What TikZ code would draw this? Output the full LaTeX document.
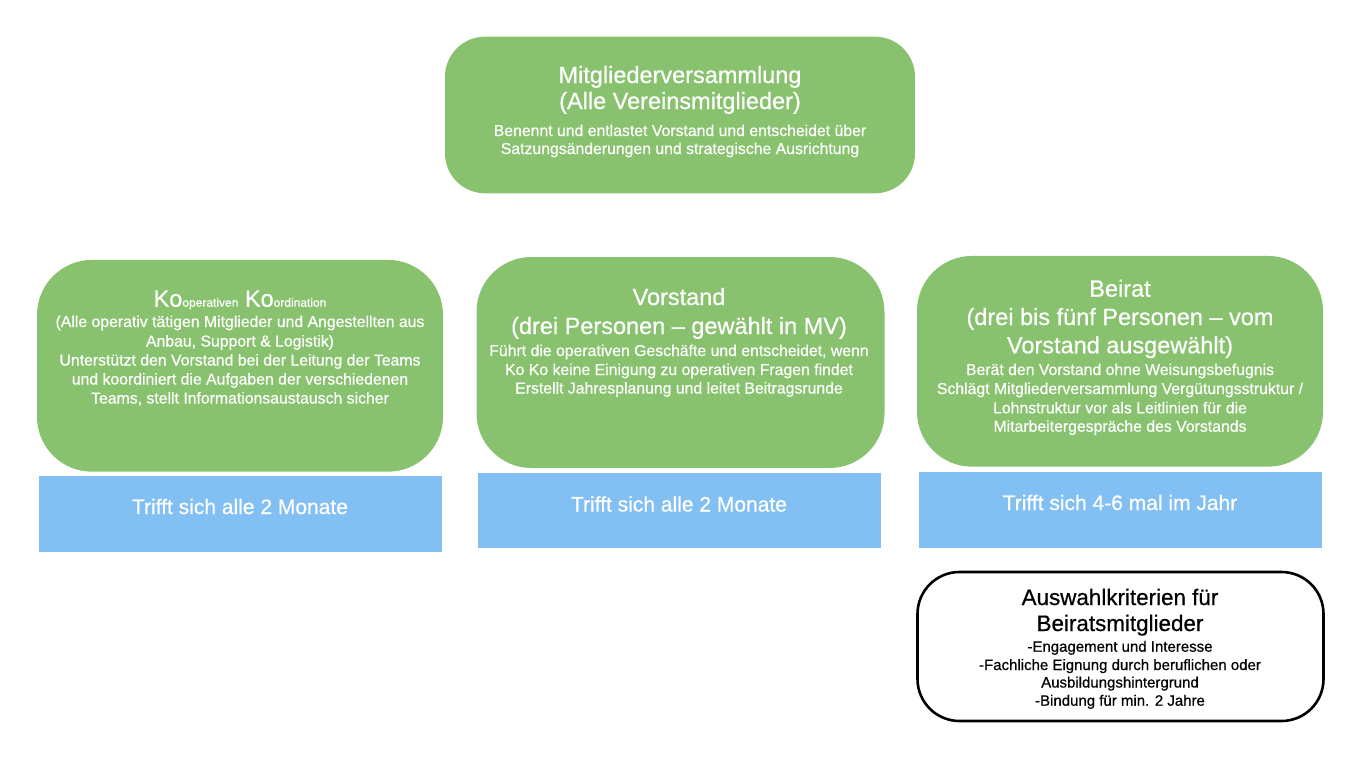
\documentclass[tikz,border=0pt]{standalone}
\usepackage{fontspec}
\setmainfont[FakeBold=0.6]{Liberation Sans}
\definecolor{grn}{RGB}{136,194,110}
\definecolor{blu}{RGB}{130,192,243}
\begin{document}
\begin{tikzpicture}[x=1pt,y=-1pt,
  gbox/.style={fill=grn, draw=none, rounded corners=#1, inner sep=0pt, outer sep=0pt},
  bbox/.style={fill=blu, draw=none, inner sep=0pt, outer sep=0pt},
  wbox/.style={fill=white, draw=black, line width=2.6pt, rounded corners=#1, inner sep=0pt, outer sep=0pt},
  big/.style={font=\fontsize{23.5}{28}\selectfont, text=white, inner sep=0pt, anchor=base},
  sml/.style={font=\fontsize{15.8}{19}\selectfont, text=white, inner sep=0pt, anchor=base},
  blt/.style={font=\fontsize{21}{25}\selectfont, text=white, inner sep=0pt, anchor=base},
  wbig/.style={font=\fontsize{22.4}{27}\selectfont, text=black, inner sep=0pt, anchor=base},
  wsml/.style={font=\fontsize{15}{18}\selectfont, text=black, inner sep=0pt, anchor=base}]
\useasboundingbox[fill=white] (0,0) rectangle (1362,760);

% boxes
\node[gbox=40pt, minimum width=470pt, minimum height=156.6pt] (mv) at (680,115) {};
\node[gbox=55pt, minimum width=406pt, minimum height=211.7pt] (ko) at (240,365.8) {};
\node[gbox=55pt, minimum width=408pt, minimum height=211pt] (vs) at (680.5,362.5) {};
\node[gbox=55pt, minimum width=406pt, minimum height=210.7pt] (br) at (1120,361.3) {};
\node[bbox, minimum width=402.7pt, minimum height=75.7pt] (kob) at (240.3,513.8) {};
\node[bbox, minimum width=402.7pt, minimum height=75pt] (vsb) at (679.3,510.2) {};
\node[bbox, minimum width=402.7pt, minimum height=76pt] (brb) at (1120.3,509.7) {};
\node[wbox=42pt, minimum width=406pt, minimum height=149pt] (aw) at (1120.5,646.5) {};

% Mitgliederversammlung
\node[big] (mv1) at (680,83) {Mitgliederversammlung};
\node[big] (mv2) at (680,109) {(Alle Vereinsmitglieder)};
\node[sml] (mv3) at (680,136) {Benennt und entlastet Vorstand und entscheidet über};
\node[sml] (mv4) at (680,154) {Satzungsänderungen und strategische Ausrichtung};

% KoKo
\node[big] (ko1) at (240,306.7) {Ko{\fontsize{12}{14}\selectfont operativen} Ko{\fontsize{12}{14}\selectfont ordination}};
\node[sml] (ko2) at (240,327) {(Alle operativ tätigen Mitglieder und Angestellten aus};
\node[sml] (ko3) at (240,346.5) {Anbau, Support \& Logistik)};
\node[sml] (ko4) at (240,365.5) {Unterstützt den Vorstand bei der Leitung der Teams};
\node[sml] (ko5) at (240,384.5) {und koordiniert die Aufgaben der verschiedenen};
\node[sml] (ko6) at (240,403.5) {Teams, stellt Informationsaustausch sicher};
\node[blt] (ko7) at (240,514) {Trifft sich alle 2 Monate};

% Vorstand
\node[big] (vs1) at (679,305) {Vorstand};
\node[big] (vs2) at (679,334) {(drei Personen – gewählt in MV)};
\node[sml] (vs3) at (679,356) {Führt die operativen Geschäfte und entscheidet, wenn};
\node[sml] (vs4) at (679,375) {Ko Ko keine Einigung zu operativen Fragen findet};
\node[sml] (vs5) at (679,393.5) {Erstellt Jahresplanung und leitet Beitragsrunde};
\node[blt] (vs6) at (679,511.5) {Trifft sich alle 2 Monate};

% Beirat
\node[big] (br1) at (1120,296.7) {Beirat};
\node[big] (br2) at (1120,325) {(drei bis fünf Personen – vom};
\node[big] (br3) at (1120,353.3) {Vorstand ausgewählt)};
\node[sml] (br4) at (1120,375) {Berät den Vorstand ohne Weisungsbefugnis};
\node[sml] (br5) at (1120,394) {Schlägt Mitgliederversammlung Vergütungsstruktur /};
\node[sml] (br6) at (1120,413.3) {Lohnstruktur vor als Leitlinien für die};
\node[sml] (br7) at (1120,431.7) {Mitarbeitergespräche des Vorstands};
\node[blt] (br8) at (1120,510) {Trifft sich 4-6 mal im Jahr};

% Auswahlkriterien
\node[wbig] (aw1) at (1120,605) {Auswahlkriterien für};
\node[wbig] (aw2) at (1120,631) {Beiratsmitglieder};
\node[wsml] (aw3) at (1120,651.7) {-Engagement und Interesse};
\node[wsml] (aw4) at (1120,670) {-Fachliche Eignung durch beruflichen oder};
\node[wsml] (aw5) at (1120,687.5) {Ausbildungshintergrund};
\node[wsml] (aw6) at (1120,705.7) {-Bindung für min. 2 Jahre};
\end{tikzpicture}
\end{document}
